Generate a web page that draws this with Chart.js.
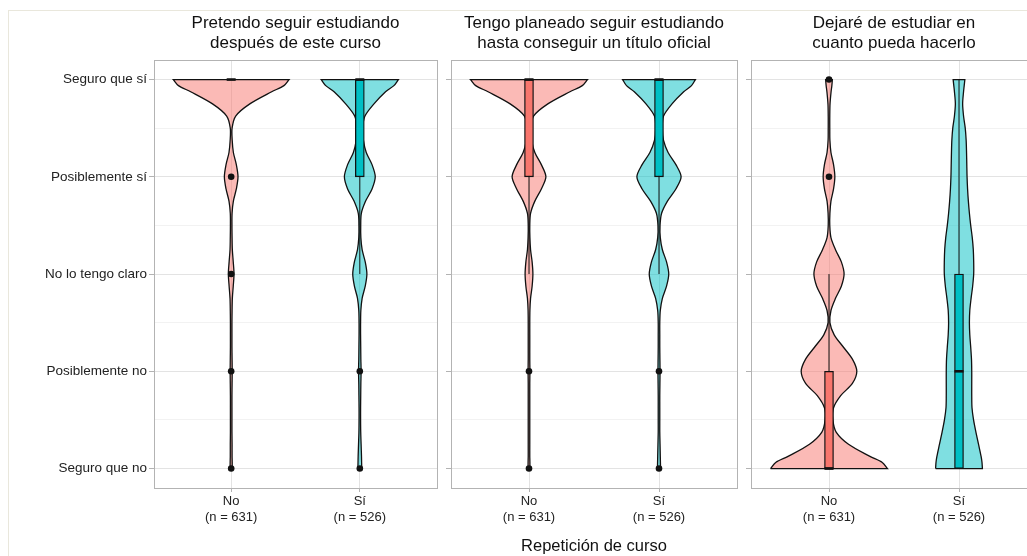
<!DOCTYPE html>
<html>
<head>
<meta charset="utf-8">
<script src="https://cdn.jsdelivr.net/npm/chart.js@4.4.0/dist/chart.umd.min.js"></script>
<style>
body { margin: 0; background: #fff; width: 1027px; height: 556px; overflow: hidden; position: relative; }
#frame { position: absolute; left: 8px; top: 10px; right: 0; bottom: 0; border-left: 1px solid #e9e7dc; border-top: 1px solid #e9e7dc; }
canvas { position: absolute; top: 0; }
</style>
</head>
<body>
<div id="frame"></div>
<canvas id="p1" width="441" height="556" style="left:0px"></canvas>
<canvas id="p2" width="300" height="556" style="left:441px"></canvas>
<canvas id="p3" width="300" height="556" style="left:741px"></canvas>
<script>
// answer levels (1 = Seguro que no ... 5 = Seguro que sí)
const yLevels = [1, 2, 3, 4, 5];
const yLabels = ['Seguro que no', 'Posiblemente no', 'No lo tengo claro', 'Posiblemente sí', 'Seguro que sí'];
const yTickValues = [1, 1.5, 2, 2.5, 3, 3.5, 4, 4.5, 5];
const groups = ['No', 'Sí'];
const groupN = [631, 526];
const panelTitles = [
  ['Pretendo seguir estudiando', 'después de este curso'],
  ['Tengo planeado seguir estudiando', 'hasta conseguir un título oficial'],
  ['Dejaré de estudiar en', 'cuanto pueda hacerlo']
];
const axisTitle = 'Repetición de curso';

// heights where the violin widths were read
const yGrid = [1, 1.0625, 1.125, 1.25, 1.375, 1.5, 1.625, 1.75, 1.875, 2, 2.125, 2.25, 2.375, 2.5, 2.625, 2.75, 2.875,
  3, 3.125, 3.25, 3.375, 3.5, 3.625, 3.75, 3.875, 4, 4.125, 4.25, 4.375, 4.5, 4.625, 4.75, 4.875, 4.9375, 5];

// violin half widths (x units) at each yGrid height
const violin1No = [0.008, 0.008, 0.007, 0.007, 0.006, 0.006, 0.006, 0.006, 0.007, 0.008, 0.007, 0.006, 0.006, 0.006, 0.007, 0.009, 0.016,
  0.022, 0.016, 0.009, 0.007, 0.006, 0.007, 0.017, 0.04, 0.053, 0.04, 0.017, 0.008, 0.007, 0.035, 0.145, 0.315, 0.41, 0.45];
const violin1Si = [0.015, 0.014, 0.013, 0.01, 0.007, 0.006, 0.006, 0.007, 0.008, 0.01, 0.008, 0.007, 0.006, 0.006, 0.008, 0.018, 0.042,
  0.055, 0.042, 0.018, 0.008, 0.007, 0.012, 0.045, 0.095, 0.12, 0.095, 0.05, 0.028, 0.022, 0.04, 0.11, 0.2, 0.265, 0.3];
const violin2No = [0.007, 0.007, 0.006, 0.006, 0.006, 0.006, 0.006, 0.006, 0.006, 0.007, 0.006, 0.006, 0.006, 0.006, 0.007, 0.012, 0.024,
  0.03, 0.024, 0.012, 0.007, 0.006, 0.012, 0.045, 0.095, 0.13, 0.095, 0.045, 0.02, 0.015, 0.035, 0.145, 0.315, 0.41, 0.45];
const violin2Si = [0.012, 0.011, 0.01, 0.008, 0.006, 0.006, 0.006, 0.006, 0.007, 0.008, 0.007, 0.006, 0.006, 0.006, 0.01, 0.026, 0.058,
  0.075, 0.058, 0.026, 0.01, 0.008, 0.02, 0.065, 0.13, 0.17, 0.13, 0.07, 0.035, 0.025, 0.035, 0.1, 0.19, 0.25, 0.28];
const violin3No = [0.45, 0.41, 0.315, 0.15, 0.055, 0.03, 0.035, 0.09, 0.18, 0.214, 0.18, 0.11, 0.04, 0.007, 0.015, 0.05, 0.095,
  0.116, 0.095, 0.05, 0.015, 0.006, 0.007, 0.015, 0.035, 0.045, 0.035, 0.015, 0.007, 0.006, 0.006, 0.008, 0.016, 0.022, 0.026];
const violin3Si = [0.18, 0.177, 0.17, 0.15, 0.13, 0.112, 0.1, 0.098, 0.098, 0.098, 0.096, 0.09, 0.083, 0.08, 0.083, 0.093, 0.105,
  0.113, 0.113, 0.11, 0.102, 0.09, 0.08, 0.072, 0.066, 0.062, 0.06, 0.058, 0.055, 0.048, 0.035, 0.028, 0.035, 0.04, 0.045];

// boxplot stats per panel, [No, Sí]
const boxQ1 = [[5, 4], [4, 4], [1, 1]];
const boxQ3 = [[5, 5], [5, 5], [2, 3]];
const boxMedian = [[5, 5], [5, 5], [1, 2]];
const whiskerLo = [[5, 3], [3, 3], [1, 1]];
const whiskerHi = [[5, 5], [5, 5], [3, 5]];
const outliers = [[[4, 3, 2, 1], [2, 1]], [[2, 1], [2, 1]], [[4, 5], []]];

const violins = [[violin1No, violin1Si], [violin2No, violin2Si], [violin3No, violin3Si]];
const font = "'Liberation Sans', Arial, Helvetica, sans-serif";
const violinFill = ['rgba(248,118,109,0.5)', 'rgba(0,191,196,0.5)'];
const boxFill = ['#F8766D', '#00BFC4'];
const boxHalf = 0.035;

function makePanel(canvasId, p) {
  const datasets = [];
  [1, 2].forEach((c, g) => {
    const w = violins[p][g];
    const left = yGrid.map((y, i) => ({ x: c - w[i], y }));
    const right = yGrid.map((y, i) => ({ x: c + w[i], y })).reverse();
    // closed outline; end points doubled so the flat ends stay straight
    datasets.push({
      data: [...left, left[left.length - 1], right[0], ...right, right[right.length - 1], left[0]],
      fill: 'shape', backgroundColor: violinFill[g], borderColor: '#111', borderWidth: 1.3,
      tension: 0.3, pointRadius: 0, order: 5
    });
    datasets.push({
      data: [{ x: c, y: whiskerLo[p][g] }, { x: c, y: whiskerHi[p][g] }],
      borderColor: '#111', borderWidth: 1, pointRadius: 0, order: 4
    });
    datasets.push({
      data: [{ x: c - boxHalf, y: boxMedian[p][g] }, { x: c + boxHalf, y: boxMedian[p][g] }],
      borderColor: '#111', borderWidth: 2.6, pointRadius: 0, order: 2
    });
    datasets.push({
      data: outliers[p][g].map(y => ({ x: c, y })),
      showLine: false, pointRadius: 3.3, pointBackgroundColor: '#111', pointBorderWidth: 0, order: 1
    });
  });
  datasets.push({
    type: 'bar',
    data: [1, 2].map((c, g) => ({ x: c, y: [boxQ1[p][g], boxQ3[p][g]] })),
    backgroundColor: boxFill, borderColor: '#111', borderWidth: 1.3, borderSkipped: false,
    barThickness: 9, maxBarThickness: 9, order: 3
  });

  const major = v => yLevels.includes(v);
  new Chart(document.getElementById(canvasId), {
    type: 'line',
    data: { datasets },
    options: {
      responsive: false,
      animation: false,
      devicePixelRatio: 1,
      layout: { padding: { right: 3 } },
      plugins: {
        legend: { display: false },
        tooltip: { enabled: false },
        title: {
          display: true, fullSize: false, text: panelTitles[p], color: '#111',
          font: { family: font, size: 17, weight: 'normal', lineHeight: 1.15 },
          padding: { top: 14, bottom: 7 }
        }
      },
      scales: {
        x: {
          type: 'linear', min: 0.4, max: 2.6, offset: false,
          afterBuildTicks: a => { a.ticks = [1, 2].map(v => ({ value: v })); },
          afterFit: s => { s.height = 68; },
          grid: { offset: false, color: '#e3e3e3', lineWidth: 1, tickLength: 4, tickColor: '#b3b3b3' },
          border: { color: '#b3b3b3', width: 1 },
          ticks: {
            color: '#222', padding: 2, maxRotation: 0, autoSkip: false,
            font: { family: font, size: 13, lineHeight: 1.2 },
            callback: v => [groups[v - 1], '(n = ' + groupN[v - 1] + ')']
          },
          title: {
            display: p === 1, text: axisTitle, color: '#111', padding: 0,
            font: { family: font, size: 16.5, lineHeight: 1.2 }
          }
        },
        y: {
          type: 'linear', min: 0.8, max: 5.2,
          afterBuildTicks: a => { a.ticks = yTickValues.map(v => ({ value: v })); },
          afterFit: s => { s.width = p === 0 ? 154 : 10; },
          grid: {
            color: ctx => major(ctx.tick.value) ? '#e3e3e3' : '#f2f2f2',
            lineWidth: 1, tickLength: 5,
            tickColor: ctx => major(ctx.tick.value) ? '#b3b3b3' : 'rgba(0,0,0,0)'
          },
          border: { color: '#b3b3b3', width: 1 },
          ticks: {
            display: p === 0, color: '#222', padding: 2, autoSkip: false,
            font: { family: font, size: 13.5 },
            callback: v => { const i = yLevels.indexOf(v); return i < 0 ? '' : yLabels[i]; }
          }
        },
        xTop: {
          type: 'linear', position: 'top', min: 0, max: 1,
          grid: { display: false }, ticks: { display: false },
          border: { color: '#b3b3b3', width: 1 },
          afterFit: s => { s.height = 0; }
        },
        yRight: {
          type: 'linear', position: 'right', min: 0, max: 1,
          grid: { display: false }, ticks: { display: false },
          border: { color: '#b3b3b3', width: 1 },
          afterFit: s => { s.width = 0; }
        }
      }
    }
  });
}

makePanel('p1', 0);
makePanel('p2', 1);
makePanel('p3', 2);
</script>
</body>
</html>
